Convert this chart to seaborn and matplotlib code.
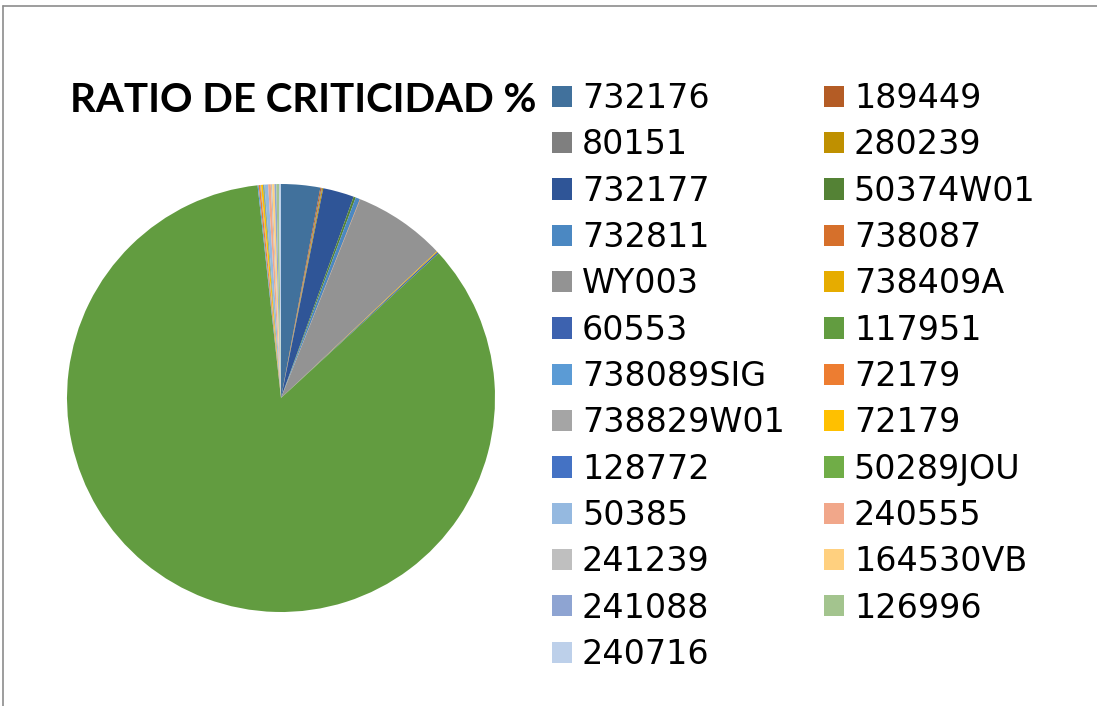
import matplotlib
matplotlib.use("Agg")
import matplotlib.pyplot as plt
import seaborn as sns
from matplotlib.patches import Patch
from matplotlib.lines import Line2D

sns.set_theme(style="white")
plt.rcParams['font.family'] = ['DejaVu Sans']

# Data (slice sizes, in %)
labels = ["732176", "189449", "80151", "280239", "732177", "50374W01",
          "732811", "738087", "WY003", "738409A", "60553", "117951",
          "738089SIG", "72179", "738829W01", "72179", "128772", "50289JOU",
          "50385", "240555", "241239", "164530VB", "241088", "126996", "240716"]
values = [2.95, 0.08, 0.06, 0.08, 2.35, 0.17,
          0.33, 0.03, 6.95, 0.08, 0.11, 85.2,
          0.08, 0.12, 0.06, 0.15, 0.05, 0.05,
          0.28, 0.2, 0.1, 0.17, 0.14, 0.2, 0.15]
colors = ["#41719C", "#B45C25", "#7F7F7F", "#BF9000", "#2F5597", "#548235",
          "#4B88C2", "#D6702B", "#939393", "#E6AC00", "#3D62AF", "#629C40",
          "#5B9BD5", "#ED7D31", "#A5A5A5", "#FFC000", "#4472C4", "#70AD47",
          "#95B9E0", "#F1A78A", "#BFBFBF", "#FFD07F", "#8EA4D2", "#A3C48E",
          "#BDD0EA"]
title = "RATIO DE CRITICIDAD %"

W, H = 1097, 706
fig = plt.figure(figsize=(W / 100, H / 100), dpi=100)
fig.patch.set_facecolor("white")

cx, cy, r = 281, 398, 214
ax = fig.add_axes([(cx - r) / W, (H - cy - r) / H, 2 * r / W, 2 * r / H])
ax.pie(values, colors=colors, startangle=90, counterclock=False,
       wedgeprops=dict(linewidth=0), radius=1)
ax.set_xlim(-1, 1)
ax.set_ylim(-1, 1)
ax.set_aspect("equal")
ax.axis("off")

fig.text(70 / W, 1 - 100 / H, title, fontsize=29, fontweight="bold",
         family=["Lato", "DejaVu Sans"], ha="left", va="center", color="black")

# legend in row-wise order (two columns)
handles = [Patch(facecolor=c, edgecolor="none", label=l) for l, c in zip(labels, colors)]
order = list(range(0, len(handles), 2)) + list(range(1, len(handles), 2))
leg = fig.legend([handles[i] for i in order], [labels[i] for i in order],
                 ncol=2, loc="upper left", bbox_to_anchor=(552 / W, 1 - 82 / H),
                 frameon=False, fontsize=24, handlelength=0.6, handleheight=0.6,
                 handletextpad=0.3, columnspacing=1.17, labelspacing=0.4,
                 borderpad=0, borderaxespad=0, labelcolor="black")

# chart border (top and left visible)
fig.add_artist(Line2D([3 / W, 1], [1 - 6 / H, 1 - 6 / H], color="#8C8C8C", lw=1.2))
fig.add_artist(Line2D([3 / W, 3 / W], [0, 1 - 6 / H], color="#8C8C8C", lw=1.2))

fig.savefig("out.png", dpi=100, facecolor="white")
